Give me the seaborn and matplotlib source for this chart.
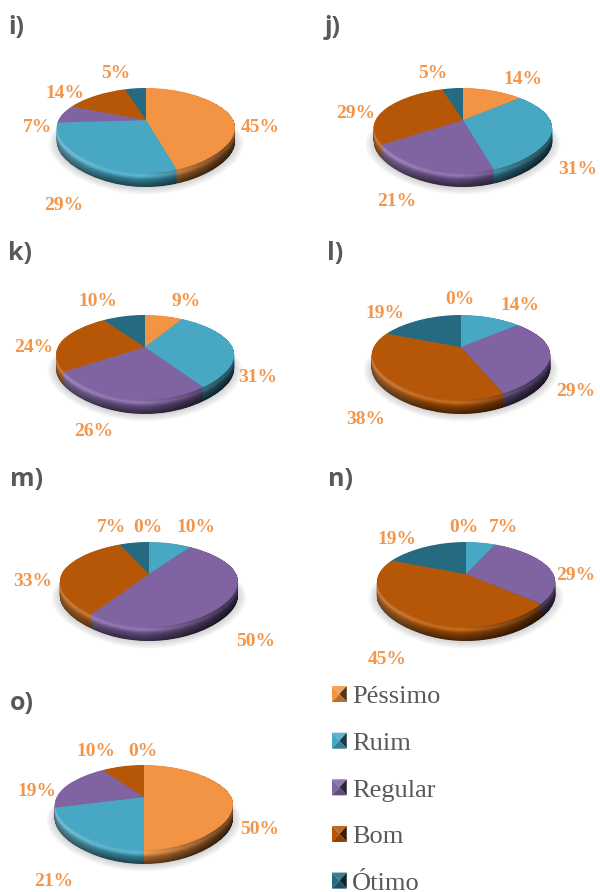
import numpy as np
import pandas as pd
import seaborn as sns
import matplotlib
matplotlib.use("Agg")
import matplotlib.pyplot as plt
from matplotlib.path import Path
from matplotlib.patches import Polygon
from matplotlib.transforms import Transform
from matplotlib.legend_handler import HandlerBase
from matplotlib.colors import to_rgb

categories = ["Péssimo", "Ruim", "Regular", "Bom", "Ótimo"]
palette_hex = ["#f39444", "#48a8c4", "#8064a2", "#b65708", "#256a80"]

panel_names = ["i)", "j)", "k)", "l)", "m)", "n)", "o)"]
values_i = [45, 29, 7, 14, 5]
values_j = [14, 31, 21, 29, 5]
values_k = [9, 31, 26, 24, 10]
values_l = [0, 14, 29, 38, 19]
values_m = [0, 10, 50, 33, 7]
values_n = [0, 7, 29, 45, 19]
values_o = [50, 21, 19, 10, 0]

# pie apex in pixel space, panel title anchor
centers = [(146, 120), (463, 120), (145, 347), (461, 347), (149, 574), (466, 574), (144, 797)]
title_pos = [(8, 28), (325, 28), (8, 253), (327, 253), (10, 479), (328, 479), (10, 704)]

# percent label centres, in category order
label_pos = [
    [(260, 127), (64, 205), (37, 127), (65, 94), (116, 74)],
    [(523, 79), (578, 169), (397, 201), (356, 114), (433, 74)],
    [(186, 301), (258, 378), (94, 431), (34, 348), (98, 301)],
    [(460, 299), (520, 305), (576, 391), (366, 419), (385, 314)],
    [(148, 527), (196, 528), (256, 641), (33, 582), (111, 527)],
    [(464, 527), (503, 527), (576, 575), (387, 659), (397, 540)],
    [(260, 829), (54, 882), (37, 792), (96, 752), (143, 751)],
]

table = pd.DataFrame(
    [values_i, values_j, values_k, values_l, values_m, values_n, values_o],
    index=panel_names, columns=categories,
)

RADIUS = 87.5
TILT = 0.247
SQUASH = 39.9
DEPTH = 14

LABEL_COLOR = "#f4964a"
TEXT_GRAY = "#595959"


def width_scale(y):
    # foreshortening of the horizontal extent along the depth of the disc
    return 1 + 0.22 * y + 0.10 * y ** 2


class TiltedDisc(Transform):
    """Maps the unit disc onto a tilted disc seen in perspective."""
    input_dims = 2
    output_dims = 2
    is_separable = False
    has_inverse = False

    def __init__(self, cx, cy):
        super().__init__()
        self.cx, self.cy = cx, cy

    def transform_non_affine(self, xy):
        xy = np.asarray(xy, float)
        return np.column_stack([self.cx + RADIUS * xy[:, 0] / width_scale(xy[:, 1]),
                                self.cy - SQUASH * xy[:, 1] / (1 + TILT * xy[:, 1])])

    def transform_path_non_affine(self, path):
        return Path(self.transform_non_affine(path.vertices), path.codes)


def shade(color, f):
    c = np.array(to_rgb(color))
    return tuple(np.clip(c * f if f <= 1 else c + (1 - c) * (f - 1), 0, 1))


def rim_factor(t):
    # rounded bevel: highlight just under the face, then a dark lower edge
    if t < 0.22:
        return 1.0 + 0.7 * t
    return np.interp(t, [0.22, 0.5, 1.0], [1.15, 0.72, 0.40])


def draw_disc(ax, values, colors, cx, cy, z, radius=1.0, alpha=None):
    wedges, _ = ax.pie(values, colors=colors, startangle=90, counterclock=False,
                       radius=radius, frame=True,
                       wedgeprops={"linewidth": 0, "zorder": z, "alpha": alpha})
    tr = TiltedDisc(cx, cy) + ax.transData
    for w in wedges:
        w.set_transform(tr)
        w.set_clip_on(False)


def side_overlay(ax, cx, cy, z):
    # horizontal light falloff across the side wall: lit left, dark right
    x0, x1 = cx - 98, cx + 98
    y0, y1 = cy - 45, cy + 78
    xs = np.arange(x0, x1) + 0.5
    ys = np.arange(y0, y1) + 0.5
    X, Y = np.meshgrid(xs, ys)
    inside = np.zeros_like(X, bool)
    for d in np.linspace(0, DEPTH, 2 * DEPTH + 1):
        v = (Y - cy - d) / SQUASH
        uy = -v / (1 + TILT * v)
        ux = (X - cx) * width_scale(uy) / RADIUS
        inside |= ux ** 2 + uy ** 2 <= 0.995
    u = (X - cx) / RADIUS
    dark = np.clip(0.55 * (u + 0.05), 0, 0.5)
    light = np.clip(-0.22 * (u + 0.35), 0, 0.16)
    rgba = np.zeros(X.shape + (4,))
    rgba[..., :3] = (light > 0)[..., None]
    rgba[..., 3] = (dark + light) * inside
    ax.imshow(rgba, extent=(x0, x1, y1, y0), zorder=z, aspect="auto", interpolation="nearest")


sns.set_theme(style="white")
plt.rcParams["font.family"] = ["Liberation Serif", "DejaVu Serif"]
colors = sns.color_palette(palette_hex)

fig = plt.figure(figsize=(6.0, 8.92), dpi=100)
ax = fig.add_axes([0, 0, 1, 1])

for p, name in enumerate(table.index):
    vals = table.loc[name].to_numpy()
    cx, cy = centers[p]
    base_z = 2 + p * 100

    # soft contact shadow
    for r in np.linspace(1.09, 1.0, 8):
        draw_disc(ax, [1], ["#707070"], cx, cy + DEPTH + 1, base_z, radius=r, alpha=0.04)

    # side wall, stacked from the bottom up
    for d in np.arange(DEPTH, 0, -0.5):
        f = rim_factor(d / DEPTH)
        draw_disc(ax, vals, [shade(c, f) for c in colors], cx, cy + d, base_z + 1)
    side_overlay(ax, cx, cy, base_z + 2)

    # top face
    draw_disc(ax, vals, colors, cx, cy, base_z + 3)

    for cat, v, (lx, ly) in zip(categories, vals, label_pos[p]):
        ax.text(lx, ly, f"{v}%", ha="center", va="center", color=LABEL_COLOR,
                fontsize=14, fontweight="bold", family="Liberation Serif", zorder=1000)

    tx, ty = title_pos[p]
    ax.text(tx, ty, name, ha="left", va="center", color=TEXT_GRAY, fontsize=18,
            fontweight="bold", family="Open Sans", zorder=1000)


class PyramidHandler(HandlerBase):
    """Legend key drawn as a small bevelled square."""
    def create_artists(self, legend, orig, xd, yd, width, height, fontsize, trans):
        c = orig.get_facecolor()
        x0, y0 = -xd, -yd
        mid = (x0 + width / 2, y0 + height / 2)
        a, b, e, g = (x0, y0), (x0 + width, y0), (x0 + width, y0 + height), (x0, y0 + height)
        sides = [((g, e), 1.12), ((a, g), 1.0), ((b, e), 0.35), ((a, b), 0.75)]
        out = []
        for (p1, p2), f in sides:
            out.append(Polygon([p1, p2, mid], closed=True, facecolor=shade(c, f),
                               edgecolor="none", transform=trans))
        return out


handles = [Polygon([(0, 0), (1, 0), (1, 1)], facecolor=c) for c in colors]
ax.legend(handles, categories, handler_map={Polygon: PyramidHandler()},
          loc="upper left", bbox_to_anchor=(332, 686), bbox_transform=ax.transData,
          frameon=False, fontsize=19, labelcolor=TEXT_GRAY, borderpad=0, borderaxespad=0,
          handlelength=0.56, handleheight=0.56, handletextpad=0.2, labelspacing=0.92)

ax.set_xlim(0, 600)
ax.set_ylim(892, 0)
ax.set_aspect("auto")
ax.axis("off")
fig.savefig("out.png", dpi=100, facecolor="white")
